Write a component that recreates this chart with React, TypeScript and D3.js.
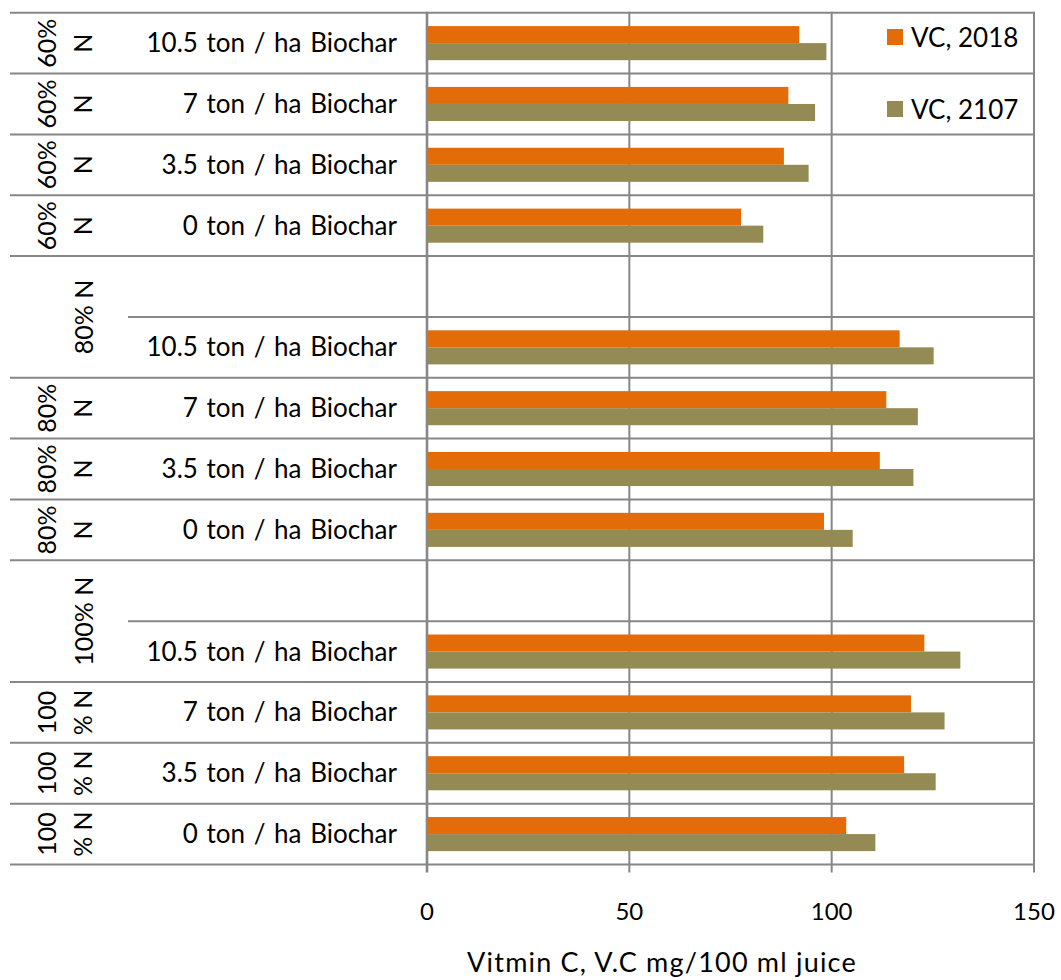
import React from "react";
import * as d3 from "d3";

// Treatment rows, top to bottom (blank rows sit under merged N-level cells)
const biocharLabels = [
  "10.5 ton / ha Biochar", "7 ton / ha Biochar", "3.5 ton / ha Biochar", "0 ton / ha Biochar",
  "",
  "10.5 ton / ha Biochar", "7 ton / ha Biochar", "3.5 ton / ha Biochar", "0 ton / ha Biochar",
  "",
  "10.5 ton / ha Biochar", "7 ton / ha Biochar", "3.5 ton / ha Biochar", "0 ton / ha Biochar",
];

// Vitamin C values (mg/100 ml juice); null = no bar
const vc2018 = [92.0, 89.3, 88.2, 77.6, null, 116.8, 113.5, 111.9, 98.1, null, 122.9, 119.6, 117.9, 103.6];
const vc2107 = [98.7, 95.9, 94.3, 83.1, null, 125.2, 121.3, 120.2, 105.2, null, 131.8, 127.9, 125.7, 110.8];

// Nitrogen-level cells of the outer category axis: first row, row span, text lines
const nitrogenCells = [
  { first: 0, span: 1, lines: ["60%", "N"] },
  { first: 1, span: 1, lines: ["60%", "N"] },
  { first: 2, span: 1, lines: ["60%", "N"] },
  { first: 3, span: 1, lines: ["60%", "N"] },
  { first: 4, span: 2, lines: ["80% N"] },
  { first: 6, span: 1, lines: ["80%", "N"] },
  { first: 7, span: 1, lines: ["80%", "N"] },
  { first: 8, span: 1, lines: ["80%", "N"] },
  { first: 9, span: 2, lines: ["100% N"] },
  { first: 11, span: 1, lines: ["100", "% N"] },
  { first: 12, span: 1, lines: ["100", "% N"] },
  { first: 13, span: 1, lines: ["100", "% N"] },
];

const seriesNames = ["VC, 2018", "VC, 2107"];
const seriesColors = ["#E36C09", "#948A54"];
const xTicks = [0, 50, 100, 150];
const xTitle = "Vitmin C, V.C mg/100 ml juice";

const FONT = "Lato, 'Open Sans', sans-serif";
const GRID = "#878787";

export default function App() {
  const width = 1061;
  const height = 980;
  const rowIds = biocharLabels.map((_, i) => `row${i}`);

  const x = d3.scaleLinear().domain([0, 150]).range([427, 1034]);
  const y = d3
    .scaleBand<string>()
    .domain(rowIds)
    .range([12.7, 864.5])
    .paddingInner(0.44)
    .paddingOuter(0.22);
  const ys = d3.scaleBand<string>().domain(seriesNames).range([0, y.bandwidth()]);
  const step = y.step();
  const top = y.range()[0];
  const rowTop = (i: number) => top + i * step;
  const bottom = rowTop(rowIds.length);

  const seriesValues = [vc2018, vc2107];

  // row boundaries: lines inside merged cells start at the inner column
  const mergedInner = new Set<number>();
  nitrogenCells.forEach((c) => {
    for (let k = 1; k < c.span; k++) mergedInner.add(c.first + k);
  });

  return (
    <div style={{ position: "absolute", left: 0, top: 0 }}>
      <svg width={width} height={height} style={{ display: "block" }}>
        <rect width={width} height={height} fill="#ffffff" />

        {/* horizontal row separators */}
        {d3.range(rowIds.length + 1).map((i) => (
          <line
            key={`h${i}`}
            x1={mergedInner.has(i) ? 128 : 10}
            x2={x(150) + 1}
            y1={rowTop(i)}
            y2={rowTop(i)}
            stroke={GRID}
            strokeWidth={2}
          />
        ))}

        {/* vertical gridlines with ticks below the axis */}
        {xTicks.map((t) => (
          <line
            key={`v${t}`}
            x1={x(t)}
            x2={x(t)}
            y1={top - 1}
            y2={bottom + 8}
            stroke={GRID}
            strokeWidth={t === 0 ? 2.6 : 2}
          />
        ))}

        {/* bars */}
        {seriesValues.map((vals, s) =>
          vals.map((v, i) =>
            v == null ? null : (
              <rect
                key={`b${s}-${i}`}
                x={x(0) + 1}
                y={(y(rowIds[i]) as number) + (ys(seriesNames[s]) as number)}
                width={x(v) - x(0) - 1}
                height={ys.bandwidth()}
                fill={seriesColors[s]}
              />
            )
          )
        )}

        {/* inner category labels */}
        {biocharLabels.map((lab, i) =>
          lab ? (
            <text
              key={`l${i}`}
              x={397}
              y={rowTop(i) + step / 2}
              dy="0.35em"
              textAnchor="end"
              fontFamily={FONT}
              fontSize={26}
              wordSpacing={2}
              fill="#000"
            >
              {lab}
            </text>
          ) : null
        )}

        {/* outer (nitrogen) category labels, rotated */}
        {nitrogenCells.map((c, k) => {
          const cy = rowTop(c.first) + (c.span * step) / 2;
          const baseX = c.lines.length === 1 ? [93] : [56, 92];
          return c.lines.map((ln, j) => (
            <text
              key={`n${k}-${j}`}
              transform={`translate(${baseX[j]},${cy}) rotate(-90)`}
              textAnchor="middle"
              fontFamily={FONT}
              fontSize={25}
              fill="#000"
            >
              {ln}
            </text>
          ));
        })}

        {/* x tick labels */}
        {xTicks.map((t) => (
          <text
            key={`t${t}`}
            x={x(t)}
            y={920}
            textAnchor="middle"
            fontFamily={FONT}
            fontSize={24}
            fill="#000"
          >
            {t}
          </text>
        ))}

        {/* x axis title */}
        <text
          x={662}
          y={972}
          textAnchor="middle"
          fontFamily={FONT}
          fontSize={27}
          letterSpacing={1.2}
          fill="#000"
        >
          {xTitle}
        </text>

        {/* legend */}
        {seriesNames.map((name, s) => (
          <g key={`lg${s}`} transform={`translate(887, ${29 + s * 72})`}>
            <rect width={16} height={16} fill={seriesColors[s]} />
            <text x={24} y={18} fontFamily={FONT} fontSize={26} fill="#000">
              {name}
            </text>
          </g>
        ))}
      </svg>
    </div>
  );
}
